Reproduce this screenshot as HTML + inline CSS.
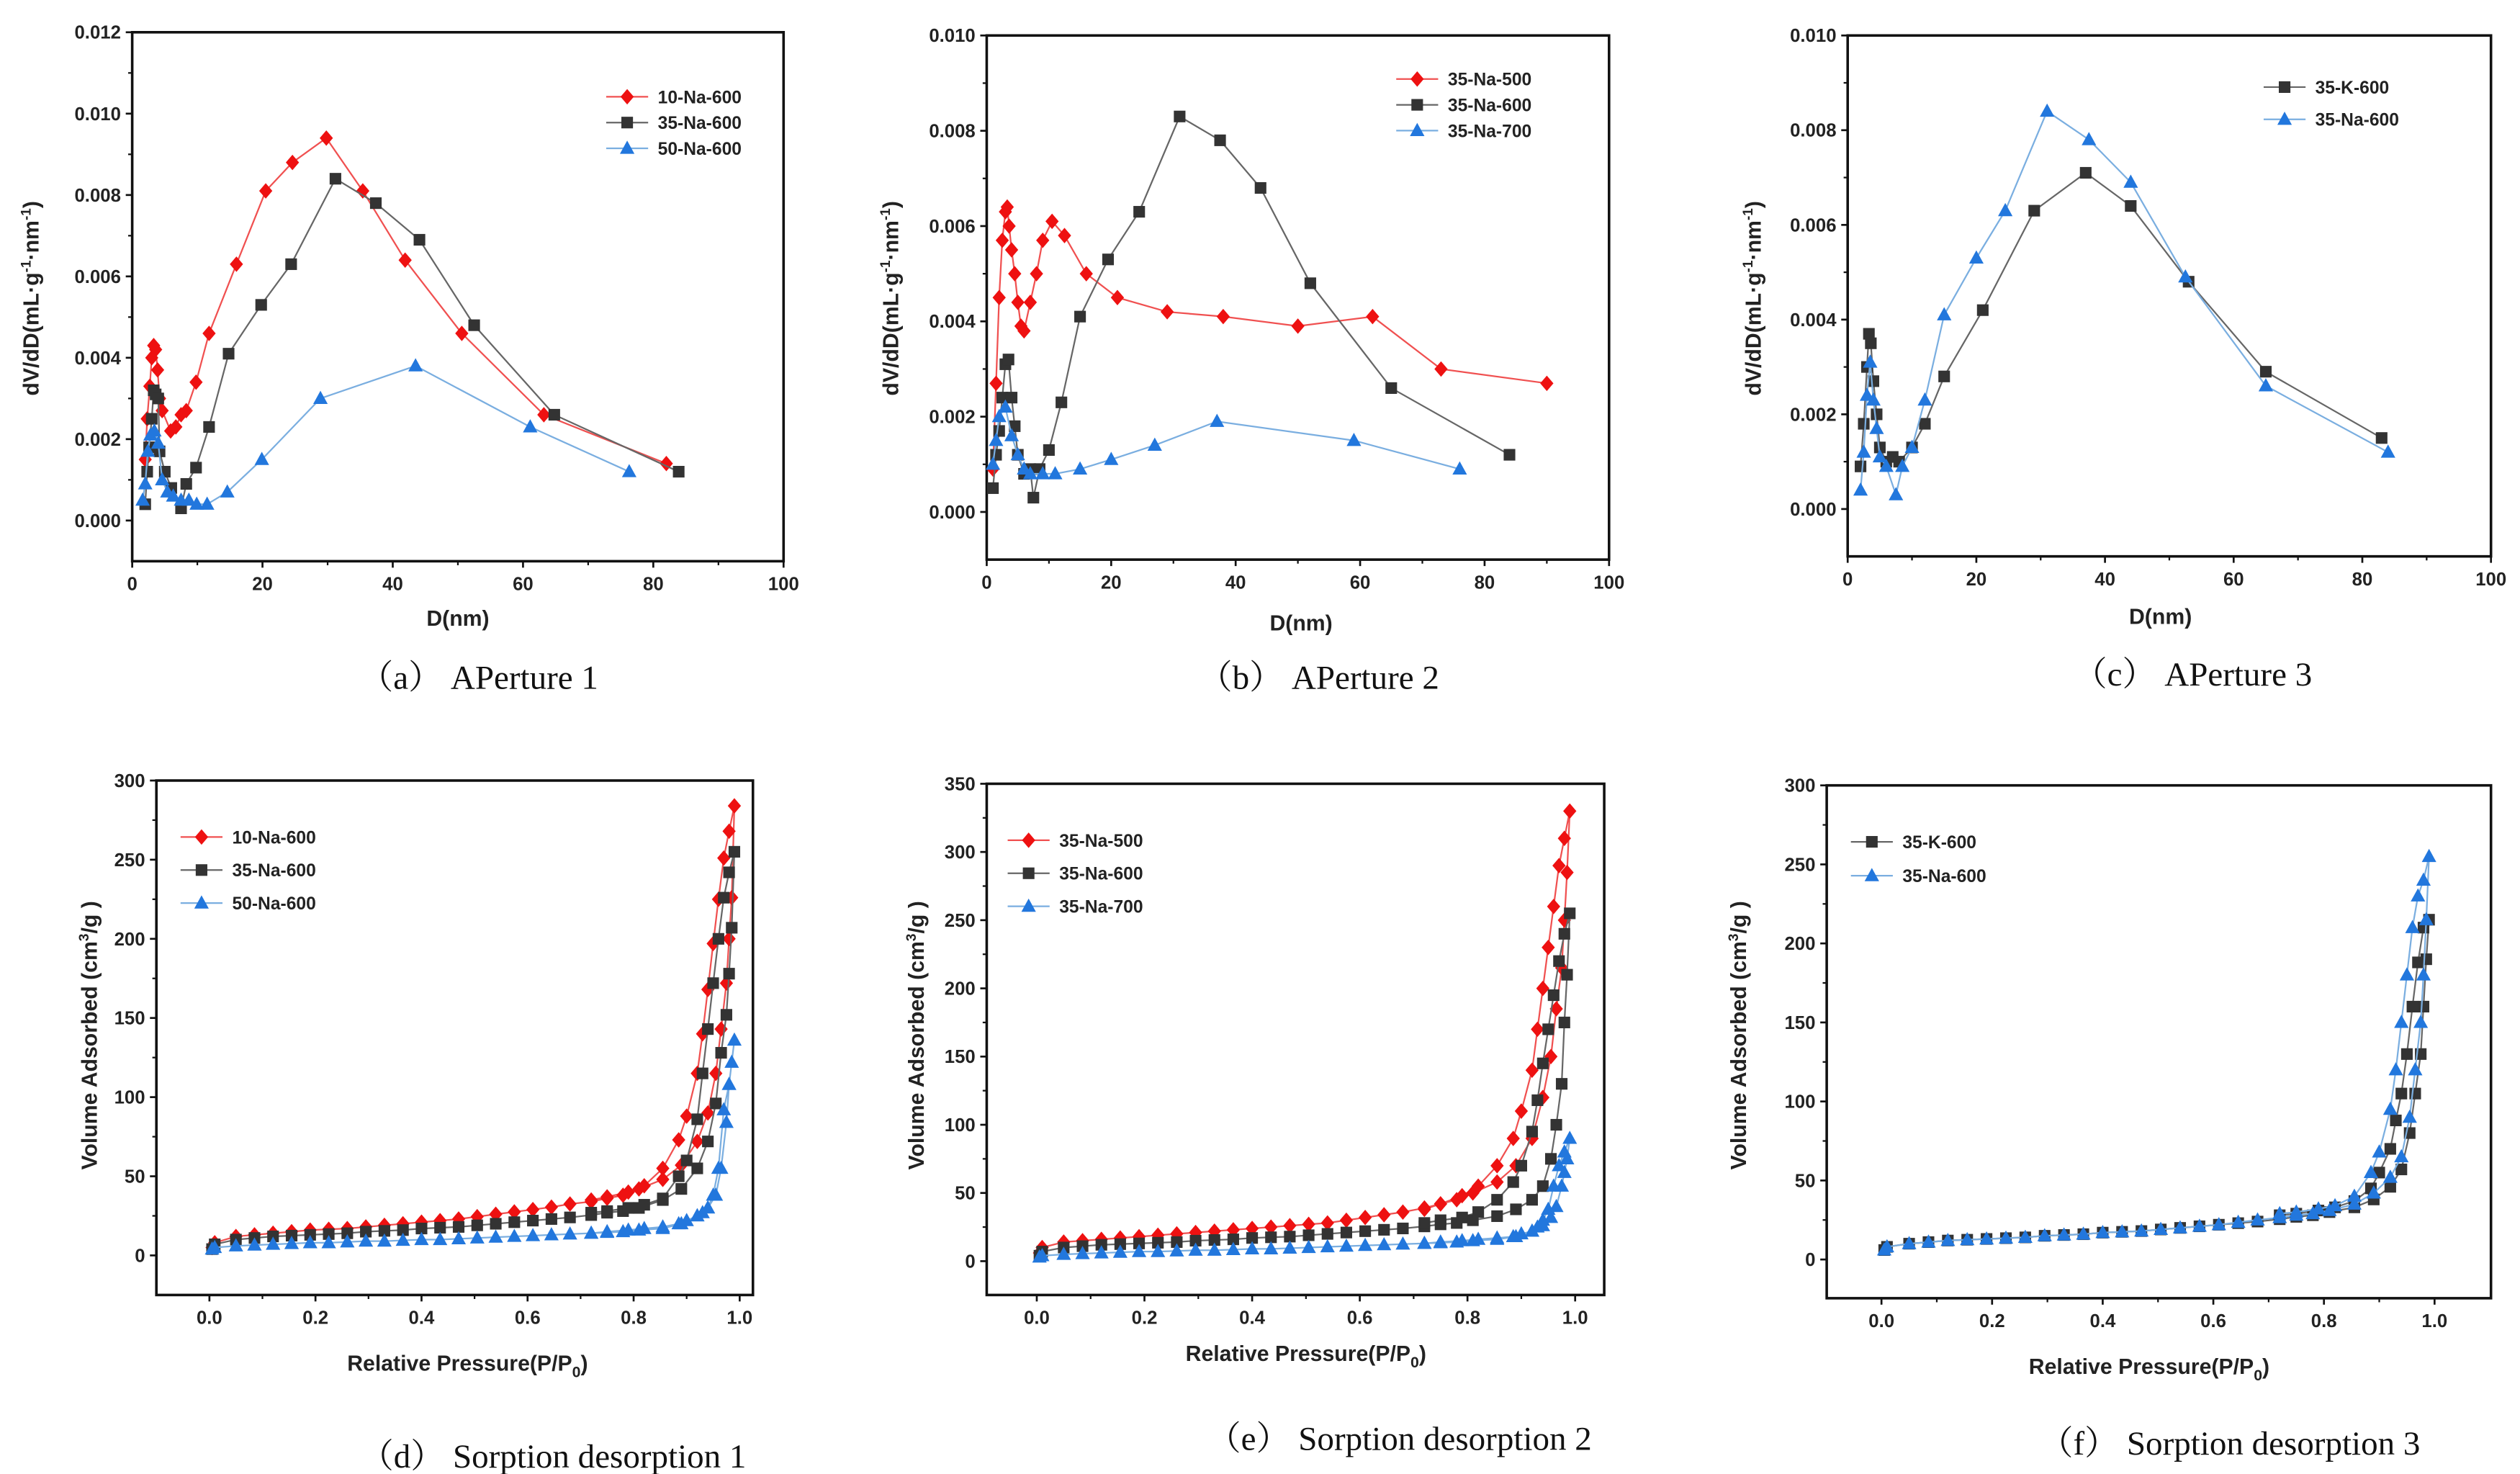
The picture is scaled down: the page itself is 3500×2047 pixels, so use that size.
<!DOCTYPE html>
<html><head><meta charset="utf-8"><style>
html,body{margin:0;padding:0;background:#fff;}
svg{display:block;}
text{font-family:"Liberation Sans",Arial,sans-serif;}
.cap{font-family:"Liberation Serif","Noto Serif CJK SC",serif;font-size:21px;fill:#111;}
</style></head><body>
<svg id="fig" width="3500" height="2047" viewBox="0 0 1563 914" preserveAspectRatio="none" xmlns="http://www.w3.org/2000/svg"></svg>
<script>
// ---------- Panel a data ----------
const aRedD=[2,2.3,2.7,3,3.3,3.6,3.9,4.2,4.6,5.9,6.7,7.5,8.3,9.8,11.8,16,20.5,24.6,29.8,35.4,41.9,50.6,63.2,82];
const aRedV=[.0015,.0025,.0033,.0040,.0043,.0042,.0037,.0030,.0027,.0022,.0023,.0026,.0027,.0034,.0046,.0063,.0081,.0088,.0094,.0081,.0064,.0046,.0026,.0014];
const aBlkD=[2,2.3,2.6,3,3.3,3.6,4,4.2,5,6,7.5,8.3,9.8,11.8,14.8,19.8,24.4,31.2,37.4,44.1,52.5,64.8,83.9];
const aBlkV=[.0004,.0012,.0018,.0025,.0032,.0031,.0030,.0017,.0012,.0008,.0003,.0009,.0013,.0023,.0041,.0053,.0063,.0084,.0078,.0069,.0048,.0026,.0012];
const aBluD=[1.6,2,2.4,2.8,3.4,4,4.6,5.4,6.3,7.5,8.7,9.9,11.5,14.6,19.9,28.9,43.5,61.1,76.3];
const aBluV=[.0005,.0009,.0017,.0021,.0022,.0019,.0010,.0007,.0006,.0005,.0005,.0004,.0004,.0007,.0015,.0030,.0038,.0023,.0012];
// ---------- Panel b data ----------
const bRedD=[1,1.5,2,2.5,3,3.3,3.6,4,4.5,5,5.5,6,7,8,9,10.5,12.5,16,21,29,38,50,62,73,90];
const bRedV=[.0009,.0027,.0045,.0057,.0063,.0064,.0060,.0055,.0050,.0044,.0039,.0038,.0044,.0050,.0057,.0061,.0058,.0050,.0045,.0042,.0041,.0039,.0041,.0030,.0027];
const bBlkD=[1,1.5,2,2.5,3,3.5,4,4.5,5,6,7,7.5,8.5,10,12,15,19.5,24.5,31,37.5,44,52,65,84];
const bBlkV=[.0005,.0012,.0017,.0024,.0031,.0032,.0024,.0018,.0012,.0008,.0009,.0003,.0009,.0013,.0023,.0041,.0053,.0063,.0083,.0078,.0068,.0048,.0026,.0012];
const bBluD=[1,1.5,2,3,4,5,6,7,9,11,15,20,27,37,59,76];
const bBluV=[.0010,.0015,.0020,.0022,.0016,.0012,.0009,.0008,.0008,.0008,.0009,.0011,.0014,.0019,.0015,.0009];
// ---------- Panel c data ----------
const cBlkD=[2,2.5,3,3.3,3.6,4,4.5,5,6,7,8,10,12,15,21,29,37,44,53,65,83];
const cBlkV=[.0009,.0018,.0030,.0037,.0035,.0027,.0020,.0013,.0010,.0011,.0010,.0013,.0018,.0028,.0042,.0063,.0071,.0064,.0048,.0029,.0015];
const cBluD=[2,2.5,3,3.5,4,4.5,5,6,7.5,8.5,10,12,15,20,24.5,31,37.5,44,52.5,65,84];
const cBluV=[.0004,.0012,.0024,.0031,.0023,.0017,.0011,.0009,.0003,.0009,.0013,.0023,.0041,.0053,.0063,.0084,.0078,.0069,.0049,.0026,.0012];
// ---------- Isotherm pressures ----------
const pAds=[0.005,0.01,0.05,0.085,0.12,0.155,0.19,0.225,0.26,0.295,0.33,0.365,0.4,0.435,0.47,0.505,0.54,0.575,0.61,0.645,0.68,0.72,0.75,0.78,0.81,0.855,0.89,0.92,0.94,0.955,0.965,0.975,0.98,0.985,0.99];
const pDes=[0.98,0.97,0.96,0.95,0.94,0.93,0.92,0.9,0.885,0.855,0.82,0.79,0.75,0.72];
// Panel d
const dRedA=[5,8,12,13,14,15,16,16.5,17,18,19,20,21,22,23,24.5,26,27.5,29,30.5,32.5,34,36,38,42,48,57,72,90,115,143,172,200,226,284];
const dRedD=[268,251,225,197,168,140,115,88,73,55,44,40,37,35];
const dBlkA=[4,7,10,11,12,12.5,13,13.5,14,15,15.5,16,17,17.5,18,19,20,21,22,23,24,25.5,27,28,30,35,42,55,72,96,128,152,178,207,255];
const dBlkD=[242,226,200,172,143,115,86,60,50,36,32,30,28,27];
const dBluA=[4,5,6,6.5,7,7.5,8,8,8.5,9,9,9.5,10,10,10.5,11,11.5,12,12.5,13,13.5,14,14.5,15,16,17,20,25,30,38,55,84,108,122,136];
const dBluD=[108,92,55,38,30,27,25,22,20,18,17,16,15,14];
// Panel e
const eRedA=[6,10,14,15,16,17,18,19,20,21,22,23,24,25,26,27,28,30,32,34,36,39,42,45,50,58,70,90,120,150,185,215,250,285,330];
const eRedD=[310,290,260,230,200,170,140,110,90,70,55,48,42,38];
const eBlkA=[4,7,10,11,12,12.5,13,13.5,14,15,15.5,16,17,17.5,18,19,20,21,22,23,24,25.5,27,28,30,33,38,45,55,75,100,130,175,210,255];
const eBlkD=[240,220,195,170,145,118,95,70,58,45,36,32,30,28];
const eBluA=[3,4,5,5.5,6,6.5,7,7,7.5,8,8,8.5,9,9,9.5,10,10.5,11,11.5,12,12.5,13,13.5,14,15,16,18,22,26,32,40,55,65,75,90];
const eBluD=[80,70,55,38,30,25,22,20,18,17,16,15,14,13];
// Panel f
const fBlkA=[6,8,10,11,12,12.5,13,13.5,14,15,15.5,16,17,17.5,18,19,20,21,22,23,24,25.5,27,28,30,33,38,46,57,80,105,130,160,190,215];
const fBlkD=[210,188,160,130,105,88,70,55,45,37,33,31,29,28];
const fBluA=[6,8,10,11,12,12.5,13,13.5,14,15,15.5,16,17,17.5,18,19,20,21,22,23.5,25,26.5,28,29,31,35,42,52,65,90,120,150,180,215,255];
const fBluD=[240,230,210,180,150,120,95,68,55,40,34,32,30,29];
// ticks
const poreYTicksA=[0,0.002,0.004,0.006,0.008,0.010,0.012];
const poreYTicksB=[0,0.002,0.004,0.006,0.008,0.010];
const poreXTicks=[0,20,40,60,80,100];
const isoXTicks=[0,0.2,0.4,0.6,0.8,1.0];
const isoYTicks300=[0,50,100,150,200,250,300];
const isoYTicks350=[0,50,100,150,200,250,300,350];

const NS="http://www.w3.org/2000/svg";
const svg=document.getElementById('fig');
function mk(tag,attrs,parent){const e=document.createElementNS(NS,tag);for(const k in attrs)e.setAttribute(k,attrs[k]);(parent||svg).appendChild(e);return e;}
const COL={red:{line:'#f05050',fill:'#ee1111',m:'diamond'},blk:{line:'#666',fill:'#333',m:'square'},blu:{line:'#7aaee0',fill:'#2277dd',m:'tri'}};

function marker(g,type,x,y,c){
  let e;
  if(type==='diamond'){e=mk('polygon',{points:`${x},${y-4.8} ${x+4.1},${y} ${x},${y+4.8} ${x-4.1},${y}`,fill:c},g);}
  else if(type==='square'){e=mk('rect',{x:x-3.6,y:y-3.6,width:7.2,height:7.2,fill:c},g);}
  else {e=mk('polygon',{points:`${x},${y-4.8} ${x+4.5},${y+3.4} ${x-4.5},${y+3.4}`,fill:c},g);}
  
  
}

function panel(o){
  const g=mk('g',{});
  
  
  const sx=v=>o.x0+(v-o.xd[0])/(o.xd[1]-o.xd[0])*(o.x1-o.x0);
  const sy=v=>o.y1-(v-o.yd[0])/(o.yd[1]-o.yd[0])*(o.y1-o.y0);
  const box=mk('rect',{x:o.x0,y:o.y0,width:o.x1-o.x0,height:o.y1-o.y0,fill:'none',stroke:'#111','stroke-width':1.6},g);
  
  
  o.xt.forEach((t,i)=>{
    const x=sx(t);
    mk('line',{x1:x,y1:o.y1,x2:x,y2:o.y1+4,stroke:'#111','stroke-width':1.2},g);
    if(i<o.xt.length-1){const xm=sx((t+o.xt[i+1])/2);mk('line',{x1:xm,y1:o.y1,x2:xm,y2:o.y1+2.5,stroke:'#111','stroke-width':1},g);}
    const tl=mk('text',{x:x,y:o.y1+18,'font-size':11.5,'font-weight':'bold','text-anchor':'middle',fill:'#222'},g);
    tl.textContent=o.xf(t);
    
    
  });
  o.yt.forEach((t,i)=>{
    const y=sy(t);
    mk('line',{x1:o.x0-4,y1:y,x2:o.x0,y2:y,stroke:'#111','stroke-width':1.2},g);
    if(i<o.yt.length-1){const ym=sy((t+o.yt[i+1])/2);mk('line',{x1:o.x0-2.5,y1:ym,x2:o.x0,y2:ym,stroke:'#111','stroke-width':1},g);}
    const tl=mk('text',{x:o.x0-7,y:y+4,'font-size':11.5,'font-weight':'bold','text-anchor':'end',fill:'#222'},g);
    tl.textContent=o.yf(t);
    
    
  });
  o.series.forEach(s=>{
    const c=COL[s.c];
    const pts=s.x.map((v,i)=>[sx(v),sy(s.y[i])]);
    const pl=mk('polyline',{points:pts.map(p=>p.join(',')).join(' '),fill:'none',stroke:c.line,'stroke-width':1},g);
    
    
    pts.forEach(p=>marker(g,c.m,p[0],p[1],c.fill));
  });
  o.legend.forEach((l,i)=>{
    const c=COL[l.c];const y=o.ly+i*o.ldy;
    const lg=mk('g',{},g);
    
    
    mk('line',{x1:o.lx,y1:y,x2:o.lx+26,y2:y,stroke:c.line,'stroke-width':1},lg);
    marker(lg,c.m,o.lx+13,y,c.fill);
    const t=mk('text',{x:o.lx+32,y:y+4,'font-size':11,'font-weight':'bold',fill:'#222'},lg);
    t.textContent=l.t;
  });
  const xt=mk('text',{x:o.xtx,y:o.xty,'font-size':13.5,'font-weight':'bold','text-anchor':'middle',fill:'#222'},g);
  xt.innerHTML=o.xtitle;
  
  
  const yt=mk('text',{x:0,y:0,'font-size':13.5,'font-weight':'bold','text-anchor':'middle',fill:'#222',transform:`translate(${o.ytx},${o.yty}) rotate(-90)`},g);
  yt.innerHTML=o.ytitle;
  
  
  const cp=mk('text',{x:o.cx,y:o.cy,'text-anchor':'middle',class:'cap'},g);
  cp.textContent=o.cap;
  
  
}
const f3=v=>v.toFixed(3), f0=v=>String(v), f1=v=>v.toFixed(1);
const poreY='dV/dD(mL·g<tspan dy="-5" font-size="8.5">-1</tspan><tspan dy="5">·nm</tspan><tspan dy="-5" font-size="8.5">-1</tspan><tspan dy="5">)</tspan>';
const isoY='Volume Adsorbed (cm<tspan dy="-5" font-size="8.5">3</tspan><tspan dy="5">/g )</tspan>';
const isoX='Relative Pressure(P/P<tspan dy="4" font-size="9.5">0</tspan><tspan dy="-4">)</tspan>';
const loopX=[...pAds,...pDes];

panel({name:'panel-a-aperture-1',x0:82,x1:486,y0:20,y1:348,xd:[0,100],yd:[-0.001,0.012],xt:poreXTicks,yt:poreYTicksA,xf:f0,yf:f3,
 series:[{c:'red',x:aRedD,y:aRedV},{c:'blk',x:aBlkD,y:aBlkV},{c:'blu',x:aBluD,y:aBluV}],
 legend:[{c:'red',t:'10-Na-600'},{c:'blk',t:'35-Na-600'},{c:'blu',t:'50-Na-600'}],lx:376,ly:60,ldy:16,
 xtitle:'D(nm)',xtx:284,xty:388,ytitle:poreY,ytx:24,yty:185,cap:'（a） APerture 1',cx:297,cy:427});
panel({name:'panel-b-aperture-2',x0:612,x1:998,y0:22,y1:347,xd:[0,100],yd:[-0.001,0.010],xt:poreXTicks,yt:poreYTicksB,xf:f0,yf:f3,
 series:[{c:'red',x:bRedD,y:bRedV},{c:'blk',x:bBlkD,y:bBlkV},{c:'blu',x:bBluD,y:bBluV}],
 legend:[{c:'red',t:'35-Na-500'},{c:'blk',t:'35-Na-600'},{c:'blu',t:'35-Na-700'}],lx:866,ly:49,ldy:16,
 xtitle:'D(nm)',xtx:807,xty:391,ytitle:poreY,ytx:557,yty:185,cap:'（b） APerture 2',cx:818,cy:427});
panel({name:'panel-c-aperture-3',x0:1146,x1:1545,y0:22,y1:345,xd:[0,100],yd:[-0.001,0.010],xt:poreXTicks,yt:poreYTicksB,xf:f0,yf:f3,
 series:[{c:'blk',x:cBlkD,y:cBlkV},{c:'blu',x:cBluD,y:cBluV}],
 legend:[{c:'blk',t:'35-K-600'},{c:'blu',t:'35-Na-600'}],lx:1404,ly:54,ldy:20,
 xtitle:'D(nm)',xtx:1340,xty:387,ytitle:poreY,ytx:1092,yty:185,cap:'（c） APerture 3',cx:1360,cy:425});
panel({name:'panel-d-sorption-1',x0:97,x1:467,y0:484,y1:803,xd:[-0.1,1.025],yd:[-25,300],xt:isoXTicks,yt:isoYTicks300,xf:f1,yf:f0,
 series:[{c:'red',x:loopX,y:[...dRedA,...dRedD]},{c:'blk',x:loopX,y:[...dBlkA,...dBlkD]},{c:'blu',x:loopX,y:[...dBluA,...dBluD]}],
 legend:[{c:'red',t:'10-Na-600'},{c:'blk',t:'35-Na-600'},{c:'blu',t:'50-Na-600'}],lx:112,ly:519,ldy:20.5,
 xtitle:isoX,xtx:290,xty:850,ytitle:isoY,ytx:60,yty:642,cap:'（d） Sorption desorption 1',cx:343,cy:910});
panel({name:'panel-e-sorption-2',x0:612,x1:995,y0:486,y1:803,xd:[-0.093,1.054],yd:[-24.8,350],xt:isoXTicks,yt:isoYTicks350,xf:f1,yf:f0,
 series:[{c:'red',x:loopX,y:[...eRedA,...eRedD]},{c:'blk',x:loopX,y:[...eBlkA,...eBlkD]},{c:'blu',x:loopX,y:[...eBluA,...eBluD]}],
 legend:[{c:'red',t:'35-Na-500'},{c:'blk',t:'35-Na-600'},{c:'blu',t:'35-Na-700'}],lx:625,ly:521,ldy:20.5,
 xtitle:isoX,xtx:810,xty:844,ytitle:isoY,ytx:573,yty:642,cap:'（e） Sorption desorption 2',cx:868,cy:899});
panel({name:'panel-f-sorption-3',x0:1133,x1:1545,y0:487,y1:805,xd:[-0.099,1.102],yd:[-24.5,300],xt:isoXTicks,yt:isoYTicks300,xf:f1,yf:f0,
 series:[{c:'blk',x:loopX,y:[...fBlkA,...fBlkD]},{c:'blu',x:loopX,y:[...fBluA,...fBluD]}],
 legend:[{c:'blk',t:'35-K-600'},{c:'blu',t:'35-Na-600'}],lx:1148,ly:522,ldy:21,
 xtitle:isoX,xtx:1333,xty:852,ytitle:isoY,ytx:1083,yty:642,cap:'（f） Sorption desorption 3',cx:1383,cy:902});
</script>
</body></html>
